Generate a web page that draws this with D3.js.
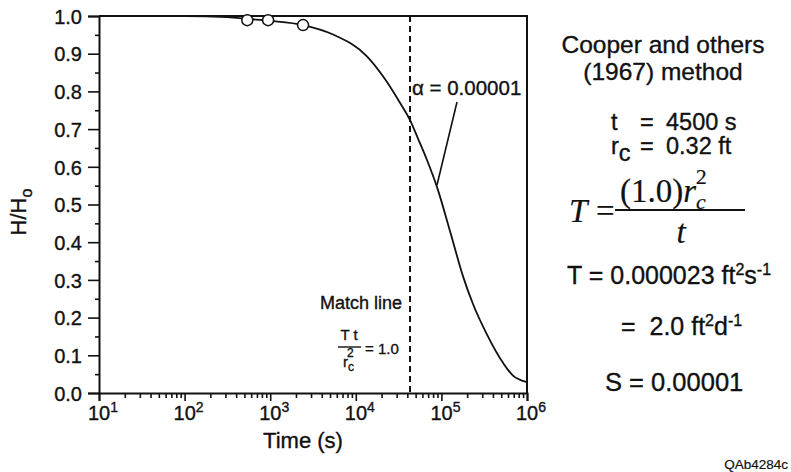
<!DOCTYPE html>
<html><head><meta charset="utf-8">
<script src="https://cdn.jsdelivr.net/npm/d3@7"></script>
<style>
body{margin:0;background:#fff;}
text{font-family:"Liberation Sans",Arial,Helvetica,sans-serif;fill:#111;stroke:#111;stroke-width:0.35px;}
.serif{font-family:"Liberation Serif","Times New Roman",serif;stroke-width:0.2px;}
</style></head><body>
<svg id="c" width="791" height="472"></svg>
<script>
// Type curve (alpha = 0.00001): time (s) and H/Ho
const curveT = [10, 100, 316, 560, 1000, 2420, 5420, 13500, 20800, 32800, 43000, 53300, 67900, 88900, 125900, 178600, 233900, 341200, 524800, 685500, 1000000];
const curveH = [1.0, 1.0, 0.997, 0.992, 0.987, 0.976, 0.951, 0.893, 0.840, 0.770, 0.724, 0.675, 0.618, 0.546, 0.430, 0.310, 0.236, 0.155, 0.080, 0.046, 0.029];
// Observed data
const obsT = [540, 945, 2420];
const obsH = [0.989, 0.989, 0.976];
// Match line time
const matchT = [43000];
// Tick labels
const xExponents = [1, 2, 3, 4, 5, 6];
const yTicks = [0.0, 0.1, 0.2, 0.3, 0.4, 0.5, 0.6, 0.7, 0.8, 0.9, 1.0];

const svg = d3.select("#c");
const L = 99, R = 527, T = 16, B = 393;
const x = d3.scaleLog().domain([10, 1e6]).range([L, R]);
const y = d3.scaleLinear().domain([0, 1]).range([B, T]);

// Y axis
const yMinor = d3.range(0.05, 1.0, 0.1);
const gy = svg.append("g").attr("transform", `translate(${L},0)`);
gy.call(d3.axisLeft(y).tickValues(yTicks).tickFormat(d3.format(".1f")).tickSize(11).tickPadding(6));
gy.selectAll(".tick text").style("font-size", "20px").attr("dy", "0.36em").attr("fill", "#111");
gy.append("g").call(d3.axisLeft(y).tickValues(yMinor).tickFormat("").tickSize(4)).select(".domain").remove();

// X axis
const xMinor = [];
for (let e = 1; e < 6; e++) for (let m = 2; m <= 9; m++) xMinor.push(m * Math.pow(10, e));
const gx = svg.append("g").attr("transform", `translate(0,${B})`);
gx.call(d3.axisBottom(x).tickValues(xExponents.map(e => Math.pow(10, e))).tickFormat("").tickSize(8));
gx.append("g").call(d3.axisBottom(x).tickValues(xMinor).tickFormat("").tickSize(5)).select(".domain").remove();
svg.selectAll(".domain, .tick line").attr("stroke", "#111").attr("stroke-width", 1.6);
svg.selectAll(".domain").attr("stroke-width", 2);

xExponents.forEach(e => {
  const t = svg.append("text").attr("x", x(Math.pow(10, e)) + 4).attr("y", B + 27)
    .attr("text-anchor", "middle").style("font-size", "20px");
  t.append("tspan").text("10");
  t.append("tspan").attr("dy", -8).style("font-size", "14px").text(e);
});

// Frame top/right
svg.append("path").attr("d", `M${L},${T}H${R}V${B}`).attr("fill", "none").attr("stroke", "#111").attr("stroke-width", 2);

// Axis titles
svg.append("text").attr("x", 303).attr("y", 448).attr("text-anchor", "middle").style("font-size", "22px").text("Time (s)");
const yl = svg.append("text").attr("transform", "translate(26,212) rotate(-90)").attr("text-anchor", "middle").style("font-size", "22px");
yl.append("tspan").text("H/H");
yl.append("tspan").attr("dy", 6).style("font-size", "16px").text("o");

// Match line
svg.append("line").attr("x1", x(matchT[0])).attr("x2", x(matchT[0])).attr("y1", T).attr("y2", B)
  .attr("stroke", "#111").attr("stroke-width", 2).attr("stroke-dasharray", "6,4");

// Curve
const pts = curveT.map((t, i) => [t, curveH[i]]);
svg.append("path").datum(pts)
  .attr("d", d3.line().x(d => x(d[0])).y(d => y(d[1])).curve(d3.curveMonotoneX))
  .attr("fill", "none").attr("stroke", "#111").attr("stroke-width", 1.8);

// Observed points
svg.selectAll("circle.obs").data(obsT.map((t, i) => [t, obsH[i]])).enter().append("circle")
  .attr("cx", d => x(d[0])).attr("cy", d => y(d[1])).attr("r", 5.5)
  .attr("fill", "#fff").attr("stroke", "#111").attr("stroke-width", 1.5);

// Alpha label + leader
svg.append("text").attr("x", 412).attr("y", 95).style("font-size", "20.5px").text("α = 0.00001");
svg.append("line").attr("x1", 457).attr("y1", 102).attr("x2", 437).attr("y2", 185)
  .attr("stroke", "#111").attr("stroke-width", 1.6);

// Match line label
svg.append("text").attr("x", 402).attr("y", 309).attr("text-anchor", "end").style("font-size", "18px").text("Match line");
svg.append("text").attr("x", 349).attr("y", 340).attr("text-anchor", "middle").style("font-size", "15px").text("T t");
svg.append("line").attr("x1", 338).attr("x2", 361).attr("y1", 347).attr("y2", 347).attr("stroke", "#111").attr("stroke-width", 1.4);
const rc = svg.append("text").attr("x", 343).attr("y", 367).style("font-size", "15px");
rc.append("tspan").text("r");
rc.append("tspan").attr("dy", 4).style("font-size", "12px").text("c");
rc.append("tspan").attr("dx", -7).attr("dy", -14).style("font-size", "12px").text("2");
svg.append("text").attr("x", 365).attr("y", 354).style("font-size", "15px").text("= 1.0");

// Right panel
const cx = 663;
svg.append("text").attr("x", cx).attr("y", 53).attr("text-anchor", "middle").style("font-size", "24.5px").text("Cooper and others");
svg.append("text").attr("x", cx).attr("y", 80).attr("text-anchor", "middle").style("font-size", "24.5px").text("(1967) method");

svg.append("text").attr("x", 611).attr("y", 130).style("font-size", "23.5px").text("t");
svg.append("text").attr("x", 640).attr("y", 130).style("font-size", "23.5px").text("=");
svg.append("text").attr("x", 666).attr("y", 130).style("font-size", "23.5px").text("4500 s");
const r2 = svg.append("text").attr("x", 611).attr("y", 154).style("font-size", "23.5px");
r2.append("tspan").text("r");
r2.append("tspan").attr("dy", 7).text("c");
svg.append("text").attr("x", 640).attr("y", 154).style("font-size", "23.5px").text("=");
svg.append("text").attr("x", 666).attr("y", 154).style("font-size", "23.5px").text("0.32 ft");

// Formula
svg.append("text").attr("class", "serif").attr("x", 569).attr("y", 222).style("font-size", "33px").style("font-style", "italic").text("T");
svg.append("text").attr("class", "serif").attr("x", 596).attr("y", 222).style("font-size", "33px").text("=");
const num = svg.append("text").attr("class", "serif").attr("x", 620).attr("y", 202).style("font-size", "33px");
num.append("tspan").text("(1.0)");
num.append("tspan").style("font-style", "italic").text("r");
num.append("tspan").attr("dy", 7).style("font-style", "italic").style("font-size", "22px").text("c");
num.append("tspan").attr("dx", -10).attr("dy", -25).style("font-size", "22px").text("2");
svg.append("line").attr("x1", 615).attr("x2", 745).attr("y1", 210).attr("y2", 210).attr("stroke", "#111").attr("stroke-width", 1.8);
svg.append("text").attr("class", "serif").attr("x", 681).attr("y", 243).attr("text-anchor", "middle").style("font-size", "33px").style("font-style", "italic").text("t");

const t1 = svg.append("text").attr("x", 567).attr("y", 284).style("font-size", "25px");
t1.append("tspan").text("T = 0.000023 ft");
t1.append("tspan").attr("dy", -9).style("font-size", "16px").text("2");
t1.append("tspan").attr("dy", 9).text("s");
t1.append("tspan").attr("dy", -9).style("font-size", "16px").text("-1");
const t2 = svg.append("text").attr("x", 621).attr("y", 335).style("font-size", "25px").attr("xml:space", "preserve");
t2.append("tspan").text("=  2.0 ft");
t2.append("tspan").attr("dy", -9).style("font-size", "16px").text("2");
t2.append("tspan").attr("dy", 9).text("d");
t2.append("tspan").attr("dy", -9).style("font-size", "16px").text("-1");
svg.append("text").attr("x", 605).attr("y", 391).style("font-size", "25.5px").text("S = 0.00001");
svg.append("text").attr("x", 788).attr("y", 469).attr("text-anchor", "end").style("font-size", "13.5px").style("stroke-width", "0.2px").text("QAb4284c");
</script></body></html>
